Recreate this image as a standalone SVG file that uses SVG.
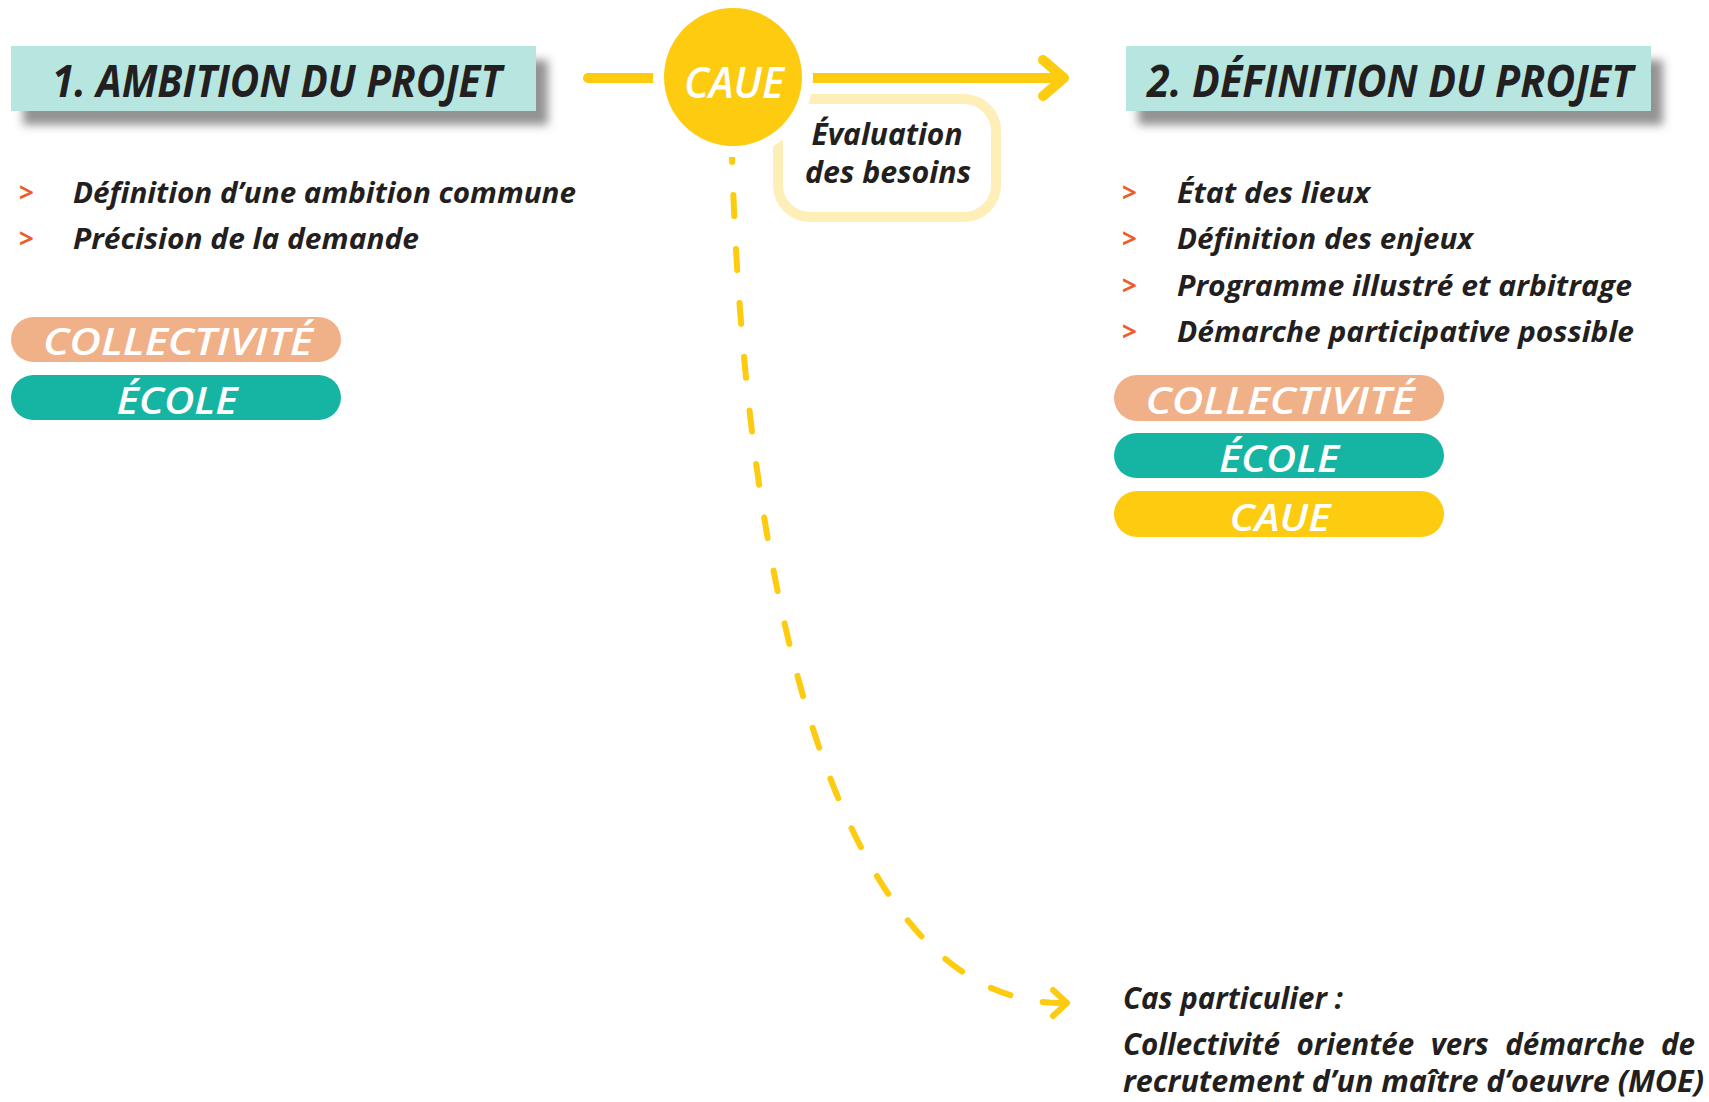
<svg xmlns="http://www.w3.org/2000/svg" width="1709" height="1102" viewBox="0 0 1709 1102">
<defs>
<style>
.t{font-family:"Open Sans","Noto Sans","Liberation Sans",sans-serif;font-style:italic;font-weight:700;fill:#231F20}
.title{font-size:45px}
.item{font-size:29px}
.note{font-size:30px}
.eval{font-size:31px;text-anchor:middle}
.bul{font-family:"Open Sans","Liberation Sans",sans-serif;font-size:26px;font-weight:700;fill:#F15A29}
.pt{font-family:"Open Sans","Noto Sans","Liberation Sans",sans-serif;font-style:italic;font-weight:600;font-size:38px;fill:#FFFFFF;text-anchor:middle}
.tbox{fill:#B7E6E1}
.p1{fill:#F0B189}
.p2{fill:#16B5A3}
.p3{fill:#FDCB0F}
.ystroke{fill:none;stroke:#FDCB0F;stroke-linecap:round;stroke-linejoin:round}
</style>
<filter id="sh" x="-10%" y="-40%" width="125%" height="200%">
<feDropShadow dx="12" dy="14" stdDeviation="5" flood-color="#6e6e6e" flood-opacity="0.75"/>
</filter>
</defs>
<rect width="1709" height="1102" fill="#FFFFFF"/>

<g id="connectors">
<line class="ystroke" x1="588" y1="78" x2="1063" y2="78" stroke-width="10"/>
<polyline class="ystroke" points="1043,60 1064,78 1043,96" stroke-width="10"/>
<path class="ystroke" d="M732,156 C745,600 840,1003 1062,1003" stroke-width="6" stroke-dasharray="21 33" stroke-dashoffset="15"/>
<polyline class="ystroke" points="1053,990 1067,1003 1053,1016" stroke-width="6"/>
</g>

<g id="title1">
<rect class="tbox" x="11" y="46" width="525" height="65" filter="url(#sh)"/>
<text class="t title" x="52" y="97" textLength="450" lengthAdjust="spacingAndGlyphs">1. AMBITION DU PROJET</text>
</g>

<g id="list1">
<text class="bul" x="19" y="202">&gt;</text>
<text class="t item" x="73" y="203" textLength="503" lengthAdjust="spacingAndGlyphs">Définition d’une ambition commune</text>
<text class="bul" x="19" y="248">&gt;</text>
<text class="t item" x="73" y="249" textLength="346" lengthAdjust="spacingAndGlyphs">Précision de la demande</text>
</g>

<g id="actors1">
<rect class="p1" x="11" y="317" width="330" height="45" rx="22.5"/>
<text class="pt" x="178" y="355" textLength="270" lengthAdjust="spacingAndGlyphs">COLLECTIVITÉ</text>
<rect class="p2" x="11" y="375" width="330" height="45" rx="22.5"/>
<text class="pt" x="177" y="414" textLength="121" lengthAdjust="spacingAndGlyphs">ÉCOLE</text>
</g>

<g id="evaluation">
<rect x="778" y="99" width="218" height="118" rx="32" fill="#FFFFFF" stroke="#FEEEB8" stroke-width="10"/>
<text class="t eval" x="887" y="145" textLength="151" lengthAdjust="spacingAndGlyphs">Évaluation</text>
<text class="t eval" x="888" y="183" textLength="166" lengthAdjust="spacingAndGlyphs">des besoins</text>
</g>

<g id="caue">
<circle cx="733" cy="77" r="80" fill="#FFFFFF"/>
<circle cx="733" cy="77" r="69" fill="#FDCB0F"/>
<text class="pt" x="734" y="98" textLength="100" lengthAdjust="spacingAndGlyphs" style="font-size:44px">CAUE</text>
</g>

<g id="title2">
<rect class="tbox" x="1126" y="46" width="525" height="65" filter="url(#sh)"/>
<text class="t title" x="1147" y="97" textLength="486" lengthAdjust="spacingAndGlyphs">2. DÉFINITION DU PROJET</text>
</g>

<g id="list2">
<text class="bul" x="1122" y="202">&gt;</text>
<text class="t item" x="1177" y="203" textLength="193" lengthAdjust="spacingAndGlyphs">État des lieux</text>
<text class="bul" x="1122" y="248">&gt;</text>
<text class="t item" x="1177" y="249" textLength="296" lengthAdjust="spacingAndGlyphs">Définition des enjeux</text>
<text class="bul" x="1122" y="295">&gt;</text>
<text class="t item" x="1177" y="296" textLength="455" lengthAdjust="spacingAndGlyphs">Programme illustré et arbitrage</text>
<text class="bul" x="1122" y="341">&gt;</text>
<text class="t item" x="1177" y="342" textLength="457" lengthAdjust="spacingAndGlyphs">Démarche participative possible</text>
</g>

<g id="actors2">
<rect class="p1" x="1114" y="375" width="330" height="46" rx="23"/>
<text class="pt" x="1280" y="414" textLength="269" lengthAdjust="spacingAndGlyphs">COLLECTIVITÉ</text>
<rect class="p2" x="1114" y="433" width="330" height="45" rx="22.5"/>
<text class="pt" x="1279" y="472" textLength="120" lengthAdjust="spacingAndGlyphs">ÉCOLE</text>
<rect class="p3" x="1114" y="491" width="330" height="46" rx="23"/>
<text class="pt" x="1280" y="531" textLength="101" lengthAdjust="spacingAndGlyphs">CAUE</text>
</g>

<g id="special-case">
<text class="t note" x="1123" y="1009" textLength="220" lengthAdjust="spacingAndGlyphs">Cas particulier :</text>
<text class="t note" x="1123" y="1055" word-spacing="9" textLength="572" lengthAdjust="spacingAndGlyphs">Collectivité orientée vers démarche de</text>
<text class="t note" x="1123" y="1092" textLength="581" lengthAdjust="spacingAndGlyphs">recrutement d’un maître d’oeuvre (MOE)</text>
</g>
</svg>
